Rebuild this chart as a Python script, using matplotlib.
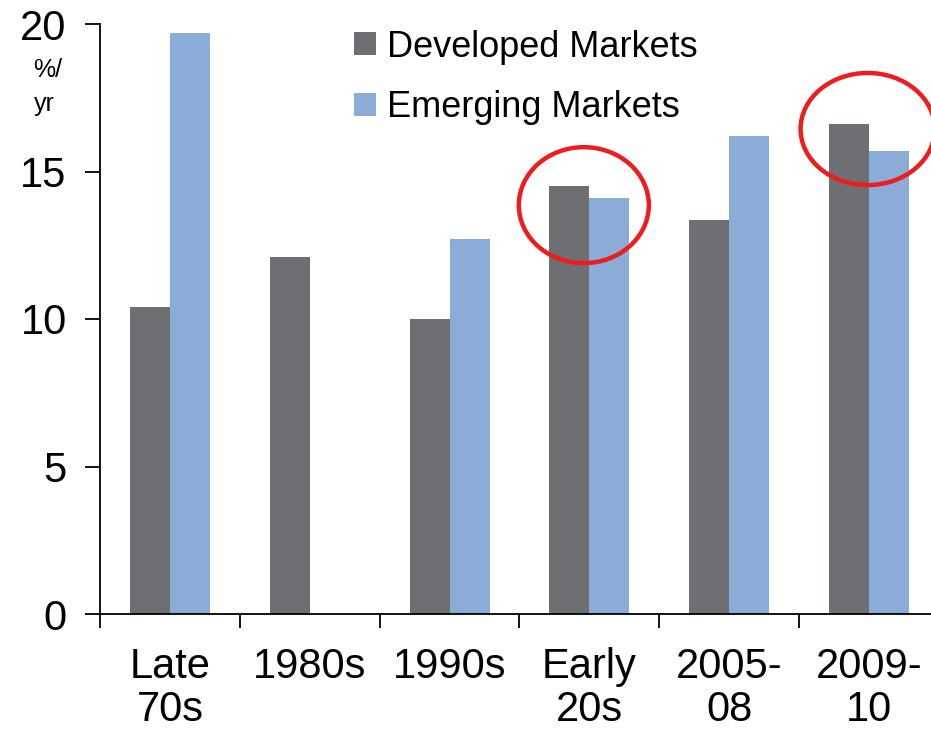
import numpy as np
import matplotlib
matplotlib.use("Agg")
import matplotlib.pyplot as plt
from matplotlib.patches import Ellipse

# data
periods = ["Late\n70s", "1980s", "1990s", "Early\n20s", "2005-\n08", "2009-\n10"]
developed = [10.4, 12.1, 10.0, 14.5, 13.35, 16.6]
emerging = [19.7, np.nan, 12.7, 14.1, 16.2, 15.7]

plt.rcParams["font.family"] = ["Liberation Sans", "DejaVu Sans"]

fig = plt.figure(figsize=(9.31, 7.35), dpi=100)
ax = fig.add_axes([100 / 931, 1 - 614 / 735, 839 / 931, 590 / 735])

x = np.arange(len(periods))
w = 0.286
ax.bar(x - w / 2, developed, width=w, color="#6e6f73", label="Developed Markets")
ax.bar(x + w / 2, emerging, width=w, color="#8aacd6", label="Emerging Markets")

ax.set_xlim(-0.5, 5.5)
ax.set_ylim(0, 20)

# red circles around the two periods where developed beats emerging
ax.add_patch(Ellipse((2.96, 13.86), 0.93, 3.93, fill=False, edgecolor="#ee1c1c",
                     linewidth=3.2, clip_on=False))
ax.add_patch(Ellipse((4.99, 16.44), 0.96, 3.8, fill=False, edgecolor="#ee1c1c",
                     linewidth=3.2, clip_on=False))

for s in ["top", "right"]:
    ax.spines[s].set_visible(False)
ax.spines["left"].set_linewidth(1.3)
ax.spines["bottom"].set_linewidth(1.3)

ax.set_yticks([0, 5, 10, 15, 20])
ax.tick_params(axis="y", labelsize=30, length=11, width=1.3, pad=13)

ax.set_xticks(x)
ax.set_xticklabels(periods, fontsize=30, linespacing=1.1)
ax.set_xticks(np.arange(-0.5, 5.6, 1), minor=True)
ax.tick_params(axis="x", which="major", length=0, pad=24)
ax.tick_params(axis="x", which="minor", length=10, width=1.3)

fig.text(48 / 931, 1 - 70 / 735, "%/", fontsize=18, ha="center", va="center")
fig.text(44 / 931, 1 - 104 / 735, "yr", fontsize=18, ha="center", va="center")

ax.legend(loc="upper left", bbox_to_anchor=(240 / 839, 1.015), frameon=False,
          fontsize=26, handlelength=0.6, handleheight=0.6,
          handletextpad=0.3, labelspacing=0.7, borderaxespad=0)

fig.savefig("out.png", dpi=100)
